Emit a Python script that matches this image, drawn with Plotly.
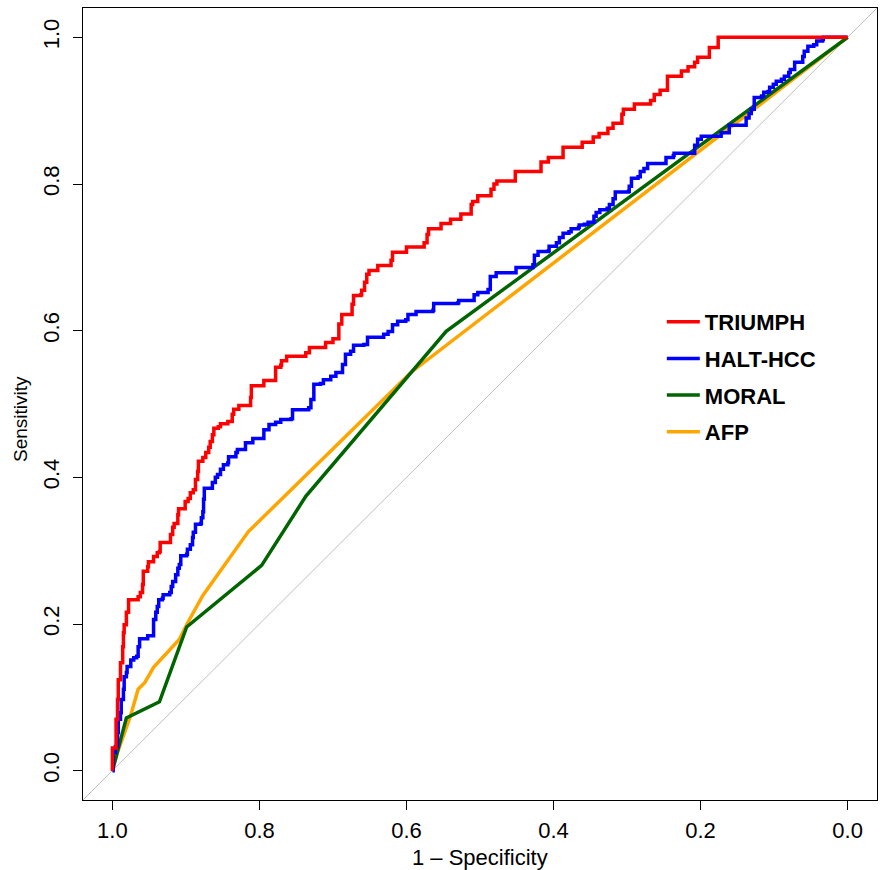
import plotly.graph_objects as go

# ---------------- data (specificity, sensitivity) ----------------
triumph_spec = [1.000, 1.000, 0.996, 0.995, 0.993, 0.992, 0.989, 0.986, 0.985, 0.984, 0.981, 0.978,
                0.966, 0.965, 0.962, 0.959, 0.958, 0.952, 0.951, 0.946, 0.944, 0.939, 0.936, 0.935,
                0.924, 0.921, 0.918, 0.916, 0.911, 0.910, 0.903, 0.901, 0.897, 0.894, 0.890, 0.887,
                0.884, 0.883, 0.877, 0.873, 0.869, 0.867, 0.864, 0.862, 0.856, 0.853, 0.843, 0.837,
                0.835, 0.828, 0.815, 0.812, 0.811, 0.797, 0.794, 0.781, 0.778, 0.771, 0.770, 0.763,
                0.740, 0.737, 0.732, 0.713, 0.710, 0.702, 0.700, 0.694, 0.692, 0.688, 0.676, 0.674,
                0.672, 0.662, 0.661, 0.657, 0.654, 0.651, 0.640, 0.639, 0.623, 0.621, 0.619, 0.601,
                0.600, 0.578, 0.576, 0.572, 0.570, 0.556, 0.553, 0.542, 0.540, 0.529, 0.526, 0.515,
                0.512, 0.510, 0.503, 0.503, 0.488, 0.485, 0.481, 0.477, 0.454, 0.452, 0.418, 0.417,
                0.409, 0.407, 0.387, 0.387, 0.362, 0.361, 0.347, 0.346, 0.338, 0.338, 0.326, 0.326,
                0.319, 0.319, 0.308, 0.307, 0.305, 0.290, 0.290, 0.270, 0.268, 0.263, 0.263, 0.256,
                0.255, 0.247, 0.245, 0.228, 0.226, 0.217, 0.217, 0.210, 0.208, 0.206, 0.204, 0.189,
                0.188, 0.179, 0.176, 0.176, 0.000]
triumph_sens = [0.000, 0.031, 0.031, 0.070, 0.097, 0.124, 0.147, 0.169, 0.188, 0.199, 0.216, 0.233,
                0.233, 0.237, 0.243, 0.254, 0.272, 0.278, 0.285, 0.285, 0.292, 0.297, 0.299, 0.311,
                0.311, 0.322, 0.332, 0.337, 0.349, 0.357, 0.357, 0.367, 0.371, 0.379, 0.383, 0.397,
                0.408, 0.422, 0.427, 0.434, 0.441, 0.449, 0.458, 0.467, 0.469, 0.473, 0.476, 0.486,
                0.493, 0.498, 0.498, 0.509, 0.525, 0.525, 0.532, 0.532, 0.550, 0.553, 0.559, 0.565,
                0.565, 0.570, 0.577, 0.577, 0.584, 0.584, 0.589, 0.589, 0.609, 0.622, 0.622, 0.636,
                0.648, 0.649, 0.655, 0.666, 0.677, 0.682, 0.682, 0.689, 0.689, 0.696, 0.707, 0.707,
                0.714, 0.714, 0.720, 0.731, 0.739, 0.739, 0.746, 0.746, 0.752, 0.752, 0.759, 0.759,
                0.772, 0.776, 0.776, 0.784, 0.784, 0.793, 0.800, 0.804, 0.804, 0.817, 0.817, 0.830,
                0.830, 0.836, 0.836, 0.850, 0.850, 0.857, 0.857, 0.864, 0.864, 0.869, 0.869, 0.876,
                0.876, 0.883, 0.883, 0.895, 0.902, 0.902, 0.909, 0.909, 0.914, 0.914, 0.922, 0.922,
                0.928, 0.928, 0.947, 0.947, 0.954, 0.954, 0.960, 0.960, 0.966, 0.966, 0.973, 0.973,
                0.986, 0.986, 0.993, 1.000, 1.000]

halt_spec = [1.000, 0.999, 0.996, 0.993, 0.992, 0.989, 0.988, 0.985, 0.984, 0.981, 0.980, 0.975,
             0.971, 0.967, 0.965, 0.963, 0.954, 0.952, 0.947, 0.944, 0.944, 0.941, 0.939, 0.937,
             0.932, 0.931, 0.922, 0.920, 0.918, 0.914, 0.911, 0.909, 0.907, 0.899, 0.898, 0.894,
             0.891, 0.890, 0.887, 0.880, 0.879, 0.877, 0.876, 0.875, 0.867, 0.864, 0.860, 0.857,
             0.853, 0.849, 0.843, 0.842, 0.832, 0.830, 0.822, 0.819, 0.813, 0.809, 0.801, 0.794,
             0.787, 0.778, 0.771, 0.757, 0.755, 0.733, 0.730, 0.726, 0.717, 0.713, 0.703, 0.696,
             0.689, 0.687, 0.683, 0.676, 0.672, 0.658, 0.653, 0.632, 0.631, 0.625, 0.619, 0.612,
             0.601, 0.598, 0.587, 0.564, 0.563, 0.530, 0.529, 0.512, 0.508, 0.503, 0.495, 0.489,
             0.486, 0.478, 0.454, 0.451, 0.428, 0.426, 0.421, 0.407, 0.406, 0.396, 0.392, 0.387,
             0.379, 0.376, 0.366, 0.365, 0.358, 0.353, 0.346, 0.345, 0.342, 0.337, 0.327, 0.324,
             0.319, 0.316, 0.298, 0.297, 0.294, 0.285, 0.282, 0.277, 0.272, 0.249, 0.247, 0.237,
             0.236, 0.210, 0.208, 0.204, 0.199, 0.173, 0.172, 0.162, 0.161, 0.140, 0.138, 0.134,
             0.131, 0.127, 0.117, 0.114, 0.108, 0.106, 0.101, 0.097, 0.090, 0.086, 0.080, 0.078,
             0.072, 0.065, 0.061, 0.059, 0.054, 0.046, 0.042, 0.034, 0.033, 0.000]
halt_sens = [0.000, 0.025, 0.033, 0.052, 0.070, 0.079, 0.097, 0.111, 0.128, 0.134, 0.142, 0.151,
             0.154, 0.156, 0.169, 0.180, 0.180, 0.184, 0.184, 0.196, 0.206, 0.216, 0.224, 0.233,
             0.235, 0.240, 0.243, 0.251, 0.258, 0.267, 0.276, 0.281, 0.293, 0.295, 0.302, 0.308,
             0.318, 0.325, 0.336, 0.337, 0.345, 0.353, 0.370, 0.385, 0.385, 0.393, 0.400, 0.404,
             0.411, 0.417, 0.420, 0.428, 0.434, 0.438, 0.438, 0.447, 0.447, 0.453, 0.453, 0.465,
             0.472, 0.475, 0.479, 0.480, 0.492, 0.495, 0.506, 0.527, 0.528, 0.533, 0.538, 0.543,
             0.543, 0.554, 0.568, 0.572, 0.580, 0.581, 0.591, 0.591, 0.595, 0.599, 0.608, 0.613,
             0.615, 0.622, 0.626, 0.628, 0.637, 0.638, 0.641, 0.641, 0.649, 0.652, 0.652, 0.656,
             0.674, 0.679, 0.679, 0.686, 0.690, 0.703, 0.708, 0.709, 0.715, 0.720, 0.727, 0.733,
             0.735, 0.739, 0.741, 0.744, 0.745, 0.748, 0.748, 0.756, 0.761, 0.765, 0.767, 0.772,
             0.780, 0.789, 0.790, 0.797, 0.808, 0.810, 0.817, 0.821, 0.828, 0.828, 0.836, 0.839,
             0.842, 0.842, 0.853, 0.861, 0.865, 0.865, 0.870, 0.870, 0.880, 0.880, 0.890, 0.896,
             0.902, 0.918, 0.920, 0.925, 0.926, 0.932, 0.936, 0.940, 0.943, 0.947, 0.952, 0.956,
             0.966, 0.966, 0.974, 0.981, 0.988, 0.990, 0.995, 0.997, 1.000, 1.000]

moral_spec = [1.000, 0.981, 0.936, 0.899, 0.797, 0.737, 0.546, 0.000]
moral_sens = [0.000, 0.072, 0.094, 0.196, 0.280, 0.374, 0.599, 1.000]

afp_spec = [1.000, 0.993, 0.975, 0.965, 0.956, 0.944, 0.909, 0.898, 0.877, 0.815, 0.594, 0.000]
afp_sens = [0.000, 0.025, 0.076, 0.111, 0.120, 0.141, 0.179, 0.201, 0.239, 0.326, 0.543, 1.000]

diag_spec = [1.1, -0.1]
diag_sens = [1 - v for v in diag_spec]

tick_vals = [0.0, 0.2, 0.4, 0.6, 0.8, 1.0]
tick_text = ["0.0", "0.2", "0.4", "0.6", "0.8", "1.0"]

FONT = "Liberation Sans, Arial, Helvetica, sans-serif"

fig = go.Figure()
fig.add_trace(go.Scatter(x=diag_spec, y=diag_sens, mode="lines",
                         line=dict(color="#BEBEBE", width=1), showlegend=False, hoverinfo="skip"))
fig.add_trace(go.Scatter(x=afp_spec, y=afp_sens, mode="lines", name="AFP", legendgroup="d",
                         legendrank=4, line=dict(color="#FFA500", width=3.5)))
fig.add_trace(go.Scatter(x=moral_spec, y=moral_sens, mode="lines", name="MORAL", legendgroup="c",
                         legendrank=3, line=dict(color="#006400", width=3.5)))
fig.add_trace(go.Scatter(x=halt_spec, y=halt_sens, mode="lines", name="HALT-HCC", legendgroup="b",
                         legendrank=2, line=dict(color="#0000FF", width=3.5, shape="hv")))
fig.add_trace(go.Scatter(x=triumph_spec, y=triumph_sens, mode="lines", name="TRIUMPH", legendgroup="a",
                         legendrank=1, line=dict(color="#FF0000", width=3.5, shape="hv")))

axis_common = dict(showline=True, linecolor="black", linewidth=1, mirror=True,
                   ticks="outside", ticklen=9, tickcolor="black", tickwidth=1,
                   showgrid=False, zeroline=False, tickvals=tick_vals, ticktext=tick_text,
                   automargin=False,
                   tickfont=dict(family=FONT, size=22, color="black"))

fig.update_layout(
    width=883, height=870,
    margin=dict(l=83, r=6, t=8, b=70),
    plot_bgcolor="white", paper_bgcolor="white",
    font=dict(family=FONT, color="black"),
    xaxis=dict(range=[1.04, -0.04], ticklabelstandoff=2, **axis_common),
    yaxis=dict(range=[-0.04, 1.04], tickangle=-90, ticklabelstandoff=5, **axis_common),
    legend=dict(x=0.729, y=0.63, xanchor="left", yanchor="top", traceorder="grouped",
                font=dict(family=FONT, size=22, color="black", weight="bold"),
                tracegroupgap=5, itemwidth=33, bgcolor="rgba(0,0,0,0)"),
    annotations=[
        dict(text="1 – Specificity", xref="paper", yref="paper", x=0.5, y=0,
             xanchor="center", yanchor="middle", yshift=-57, showarrow=False,
             font=dict(family=FONT, size=22, color="black")),
        dict(text="Sensitivity", xref="paper", yref="paper", x=0, y=0.5,
             xanchor="center", yanchor="middle", xshift=-63, yshift=-15, textangle=-90,
             showarrow=False, font=dict(family=FONT, size=19, color="black")),
    ],
)

fig.write_html("out.html", config={"displayModeBar": False},
               post_script="document.body.style.margin='0';")
